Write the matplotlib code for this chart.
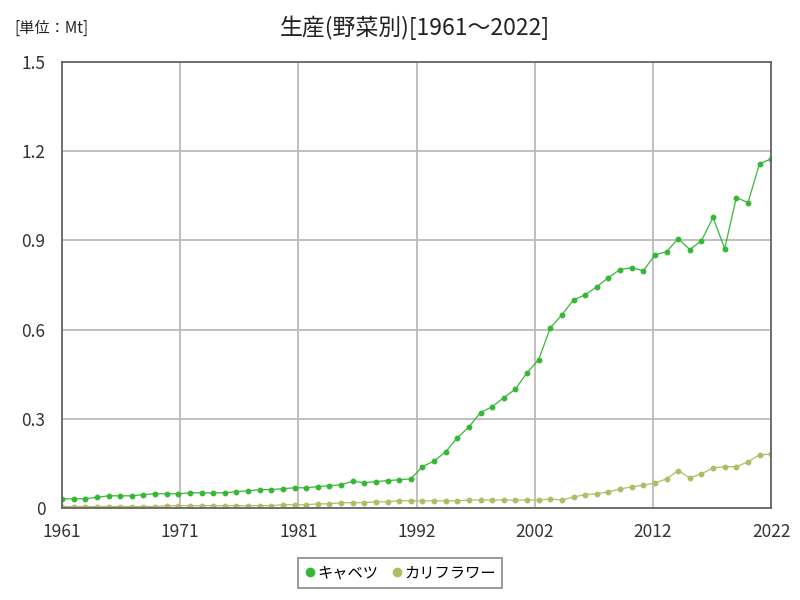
import numpy as np
import matplotlib.pyplot as plt
from matplotlib.lines import Line2D

plt.rcParams['font.family'] = ['Noto Sans CJK JP', 'DejaVu Sans']

# データ (単位: Mt)
years = list(range(1961, 2023))
cabbage = [0.031, 0.031, 0.031, 0.036, 0.041, 0.041, 0.041, 0.045, 0.048, 0.048,
           0.048, 0.051, 0.051, 0.051, 0.051, 0.055, 0.058, 0.062, 0.062, 0.065,
           0.068, 0.068, 0.072, 0.075, 0.078, 0.090, 0.085, 0.089, 0.092, 0.095,
           0.098, 0.139, 0.158, 0.189, 0.236, 0.273, 0.321, 0.341, 0.371, 0.400,
           0.455, 0.499, 0.606, 0.650, 0.700, 0.717, 0.744, 0.775, 0.802, 0.808,
           0.798, 0.851, 0.862, 0.906, 0.869, 0.899, 0.977, 0.872, 1.044, 1.027,
           1.158, 1.174]
cauliflower = [0.005, 0.005, 0.005, 0.005, 0.005, 0.005, 0.005, 0.005, 0.005, 0.008,
               0.008, 0.008, 0.008, 0.008, 0.008, 0.008, 0.008, 0.008, 0.008, 0.011,
               0.011, 0.011, 0.014, 0.014, 0.018, 0.018, 0.018, 0.021, 0.021, 0.025,
               0.024, 0.024, 0.024, 0.024, 0.024, 0.027, 0.027, 0.027, 0.027, 0.027,
               0.027, 0.027, 0.030, 0.027, 0.037, 0.045, 0.048, 0.054, 0.064, 0.071,
               0.077, 0.084, 0.098, 0.126, 0.101, 0.115, 0.135, 0.139, 0.139, 0.155,
               0.179, 0.181]
series_names = ['キャベツ', 'カリフラワー']
colors = ['#36b836', '#b3bb66']
xtick_labels = ['1961', '1971', '1981', '1992', '2002', '2012', '2022']

fig = plt.figure(figsize=(8, 6), dpi=100)
ax = fig.add_axes([0.0775, 0.1533, 0.8865, 0.7434])

for vals, name, c in zip([cabbage, cauliflower], series_names, colors):
    ax.plot(years, vals, color=c, linewidth=0.9, marker='o', markersize=3.2, label=name)

ax.set_xlim(1961, 2022)
ax.set_ylim(0, 1.5)
ax.set_xticks(np.linspace(1961, 2022, 7))
ax.set_xticklabels(xtick_labels)
ax.set_yticks([0, 0.3, 0.6, 0.9, 1.2, 1.5])
ax.set_yticklabels(['0', '0.3', '0.6', '0.9', '1.2', '1.5'])
ax.tick_params(length=0, labelsize=12.5, colors='#333333')
ax.tick_params(axis='x', pad=11)
ax.tick_params(axis='y', pad=12)
ax.grid(True, color='#bbbbbb', linewidth=1.3)
ax.set_axisbelow(True)
for s in ax.spines.values():
    s.set_color('#666666')
    s.set_linewidth(1.3)

fig.text(0.519, 0.953, '生産(野菜別)[1961～2022]', ha='center', va='center', fontsize=16.5, color='#222222')
fig.text(0.018, 0.953, '[単位：Mt]', ha='left', va='center', fontsize=11, color='#222222')

handles = [Line2D([], [], linestyle='none', marker='o', markersize=6, color=c) for c in colors]
leg = fig.legend(handles, series_names, loc='center', bbox_to_anchor=(0.5, 0.045), ncol=2,
                 frameon=True, fancybox=False, fontsize=11, handletextpad=0.1,
                 columnspacing=0.8, handlelength=0.8, borderpad=0.4)
leg.get_frame().set_edgecolor('#777777')
leg.get_frame().set_linewidth(1.3)

fig.savefig('out.png', dpi=100)
